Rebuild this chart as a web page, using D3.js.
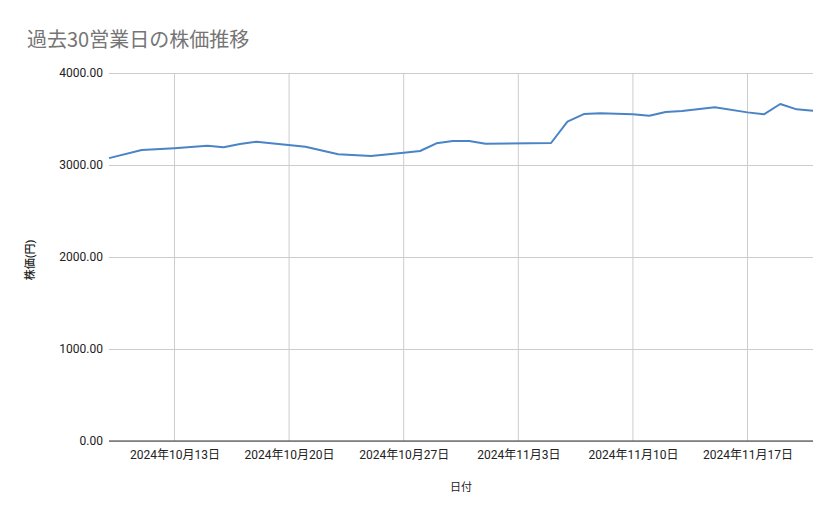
<!DOCTYPE html>
<html>
<head>
<meta charset="utf-8">
<script src="https://cdn.jsdelivr.net/npm/d3@7"></script>
<style>
  body { margin: 0; background: #fff; }
  text { font-family: Roboto, "Noto Sans CJK JP", sans-serif; }
</style>
</head>
<body>
<div id="chart-area"></div>
<script>
// data
var dates = ["2024-10-09", "2024-10-11", "2024-10-13", "2024-10-15", "2024-10-16", "2024-10-17",
  "2024-10-18", "2024-10-21", "2024-10-23", "2024-10-25", "2024-10-27", "2024-10-28",
  "2024-10-29", "2024-10-30", "2024-10-31", "2024-11-01", "2024-11-05", "2024-11-06",
  "2024-11-07", "2024-11-08", "2024-11-10", "2024-11-11", "2024-11-12", "2024-11-13",
  "2024-11-15", "2024-11-17", "2024-11-18", "2024-11-19", "2024-11-20", "2024-11-21"];
var prices = [3075, 3163, 3183, 3210, 3192, 3228,
  3253, 3199, 3116, 3098, 3134, 3152,
  3236, 3261, 3261, 3232, 3239, 3471,
  3554, 3562, 3551, 3536, 3576, 3587,
  3627, 3572, 3551, 3663, 3605, 3590];
var yTicks = [0, 1000, 2000, 3000, 4000];
var xTicks = ["2024-10-13", "2024-10-20", "2024-10-27", "2024-11-03", "2024-11-10", "2024-11-17"];
var xDomain = ["2024-10-09", "2024-11-21"];

var parse = d3.timeParse("%Y-%m-%d");
var data = dates.map(function (d, i) { return { date: parse(d), price: prices[i] }; });

var W = 839, H = 519;
var margin = { left: 109, right: 26, top: 73, bottom: 78 };
var width = W - margin.left - margin.right,
    height = H - margin.top - margin.bottom;

var svg = d3.select("#chart-area").append("svg").attr("width", W).attr("height", H);

svg.append("text").attr("x", 27).attr("y", 47)
  .attr("font-size", "20px").attr("fill", "#757575")
  .style("font-family", "'Noto Sans CJK JP', Roboto, sans-serif")
  .text("過去30営業日の株価推移");

var g = svg.append("g").attr("transform", "translate(" + margin.left + "," + margin.top + ")");

var x = d3.scaleTime().range([0, width]).domain(xDomain.map(parse));
var y = d3.scaleLinear().range([height, 0]).domain([0, 4000]);

// vertical grid
g.selectAll(".vgrid").data(xTicks.map(parse)).enter().append("line")
  .attr("x1", function (d) { return x(d); }).attr("x2", function (d) { return x(d); })
  .attr("y1", 0).attr("y2", height)
  .attr("stroke", "#cccccc").attr("stroke-width", 1);

// y axis with gridlines
var yAxis = d3.axisLeft(y).tickValues(yTicks).tickSize(-width).tickPadding(6)
  .tickFormat(function (d) { return d3.format(".2f")(d); });
var yg = g.append("g").attr("class", "y axis").call(yAxis);
yg.select(".domain").remove();
yg.selectAll(".tick line").attr("stroke", "#cccccc").attr("x1", 0);
yg.selectAll(".tick text").attr("font-size", "12px").attr("fill", "#222")
  .style("font-family", "Roboto, sans-serif");

// baseline
g.append("line").attr("x1", 0).attr("x2", width).attr("y1", y(0)).attr("y2", y(0))
  .attr("stroke", "#333333").attr("stroke-width", 1);

// x axis
var xAxis = d3.axisBottom(x).tickValues(xTicks.map(parse)).tickSize(0).tickPadding(9)
  .tickFormat(function (d) { return d3.timeFormat("%Y年%-m月%-d日")(d); });
var xg = g.append("g").attr("class", "x axis").attr("transform", "translate(0," + height + ")").call(xAxis);
xg.select(".domain").remove();
xg.selectAll(".tick text").attr("font-size", "12px").attr("fill", "#222");

// line
var line = d3.line().x(function (d) { return x(d.date); }).y(function (d) { return y(d.price); });
g.append("path").datum(data).attr("d", line)
  .attr("fill", "none").attr("stroke", "#4a84c6").attr("stroke-width", 2)
  .attr("stroke-linejoin", "round");

// axis titles
svg.append("text").attr("x", 461).attr("y", 491)
  .attr("text-anchor", "middle").attr("font-size", "11px").attr("fill", "#222")
  .text("日付");
svg.append("text").attr("transform", "translate(34,260) rotate(-90)")
  .attr("text-anchor", "middle").attr("font-size", "11px").attr("fill", "#222")
  .attr("font-weight", "500").text("株価(円)");
</script>
</body>
</html>
